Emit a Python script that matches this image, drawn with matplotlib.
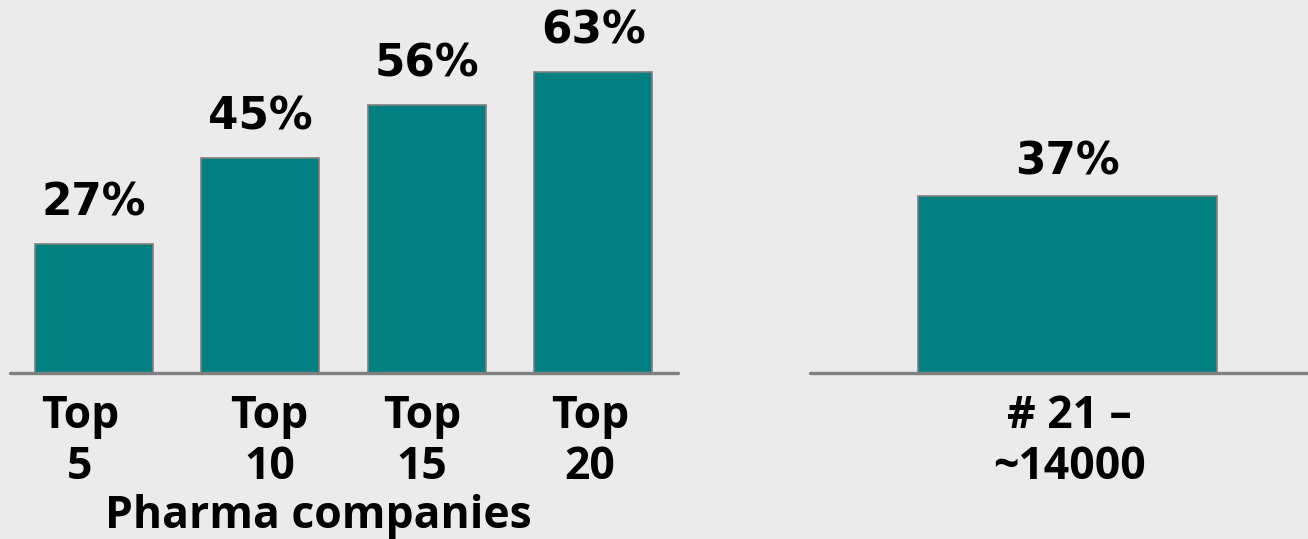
import matplotlib
matplotlib.use("Agg")
import matplotlib.pyplot as plt
from matplotlib.transforms import ScaledTranslation

# Share of sales by company group
categories = ["Top\n5", "Top\n10", "Top\n15", "Top\n20"]
shares = [27, 45, 56, 63]
rest_category = ["# 21 –\n~14000"]
rest_share = [37]
group_title = "Pharma companies"

BG = "#ebebeb"
TEAL = "#008080"
GREY = "#808080"

W, H = 1308, 539
fig = plt.figure(figsize=(W / 100, H / 100), dpi=100, facecolor=BG)

base = 373          # baseline, pixels from top
ymax = 78.0


def make_axes(x0, x1):
    ax = fig.add_axes([x0 / W, (H - base) / H, (x1 - x0) / W, base / H])
    ax.set_facecolor(BG)
    for s in ("top", "right", "left"):
        ax.spines[s].set_visible(False)
    ax.spines["bottom"].set_color(GREY)
    ax.spines["bottom"].set_linewidth(2.4)
    ax.spines["bottom"].set_capstyle("round")
    ax.set_ylim(0, ymax)
    ax.set_yticks([])
    ax.tick_params(axis="x", length=0, pad=15)
    return ax


def nudge(labels, shifts_px):
    # shift tick labels sideways by a few pixels
    for lab, dx in zip(labels, shifts_px):
        lab.set_transform(lab.get_transform() + ScaledTranslation(dx / 100, 0, fig.dpi_scale_trans))


label_font = dict(family="Open Sans", weight="bold", size=32)
value_font = dict(family="DejaVu Sans", weight="bold", size=31.5)

# left panel: cumulative top-N groups
ax1 = make_axes(10, 678)
pos = list(range(len(shares)))
bars = ax1.bar(pos, shares, width=0.71, color=TEAL, edgecolor=GREY, linewidth=1.2, zorder=2)
ax1.set_xlim(-0.505, 3.51)
ax1.set_xticks(pos)
labs = ax1.set_xticklabels(categories, linespacing=1.18, **label_font)
nudge(labs, [-14, 9, -5, -3])
for b, v in zip(bars, shares):
    ax1.annotate(f"{v}%", (b.get_x() + b.get_width() / 2, v), xytext=(0, 14),
                 textcoords="offset points", ha="center", va="bottom", **value_font)
fig.text(318 / W, 1 - 528 / H, group_title, ha="center", va="baseline", **label_font)

# right panel: remaining companies
ax2 = make_axes(810, 1308)
bars2 = ax2.bar([0], rest_share, width=1.0, color=TEAL, edgecolor=GREY, linewidth=1.2, zorder=2)
ax2.set_xlim(-0.861, 0.804)
ax2.set_xticks([0])
labs2 = ax2.set_xticklabels(rest_category, linespacing=1.18, **label_font)
nudge(labs2, [2])
for b, v in zip(bars2, rest_share):
    ax2.annotate(f"{v}%", (b.get_x() + b.get_width() / 2, v), xytext=(0, 9),
                 textcoords="offset points", ha="center", va="bottom", **value_font)

fig.savefig("out.png", dpi=100, facecolor=BG)
